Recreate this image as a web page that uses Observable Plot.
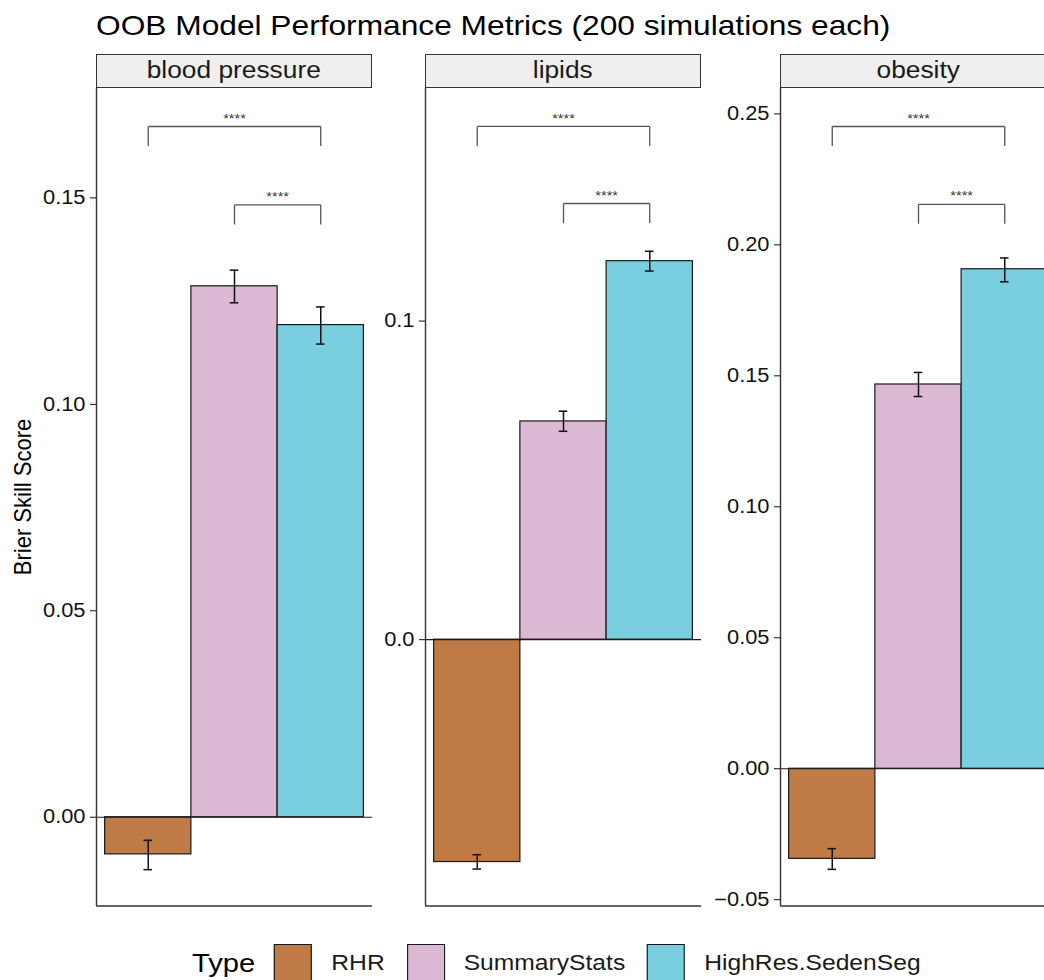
<!DOCTYPE html>
<html>
<head>
<meta charset="utf-8">
<script src="https://cdn.jsdelivr.net/npm/d3@7"></script>
<script src="https://cdn.jsdelivr.net/npm/@observablehq/plot@0.6"></script>
<style>
  html, body { margin: 0; padding: 0; background: #fff; overflow: hidden; }
  #chart {
    position: relative; width: 1044px; height: 980px; overflow: hidden;
    font-family: "Liberation Sans", Arial, Helvetica, sans-serif; color: #000;
  }
  .title {
    position: absolute; left: 96px; top: 11px; font-size: 28.3px; line-height: 28px;
    white-space: nowrap; transform: scaleX(1.12); transform-origin: left center;
  }
  .ytitle {
    position: absolute; left: 23px; top: 497px; font-size: 22px; line-height: 22px;
    white-space: nowrap; transform: translate(-50%, -50%) rotate(-90deg) scaleY(1.12);
  }
  .strip {
    position: absolute; top: 54px; height: 34px; width: 276px; box-sizing: border-box;
    background: #efefef; border: 1.4px solid #333; display: flex;
    align-items: center; justify-content: center;
  }
  .strip span {
    display: inline-block; font-size: 23.5px; line-height: 1; color: #1a1a1a;
    transform: scaleX(1.12); white-space: nowrap;
  }
  .panel { position: absolute; }
  .legend {
    position: absolute; left: 192px; top: 944px; height: 38px; display: flex;
    align-items: center; transform: scaleX(1.12); transform-origin: left center;
    white-space: nowrap; color: #1a1a1a;
  }
  .legend .ltitle { font-size: 26px; margin-right: 17px; color: #000; }
  .legend .key { width: 34px; height: 38px; box-sizing: border-box; border: 1.6px solid #1a1a1a; margin-right: 17px; }
  .legend .lab { font-size: 22px; margin-right: 19.5px; }
</style>
</head>
<body>
<div id="chart"></div>
<script>
// Model types (fill groups) and their colours
const types = ["RHR", "SummaryStats", "HighRes.SedenSeg"];
const typeColors = ["#c07a45", "#dbb8d3", "#79cee0"];

// Facets (outcomes)
const outcomes = ["blood pressure", "lipids", "obesity"];

// Mean OOB Brier skill score per type, with error-bar limits
const bloodPressureMean = [-0.0090, 0.1286, 0.1192];
const bloodPressureLow  = [-0.0127, 0.1246, 0.1146];
const bloodPressureHigh = [-0.0056, 0.1325, 0.1236];

const lipidsMean = [-0.0698, 0.0685, 0.1188];
const lipidsLow  = [-0.0720, 0.0654, 0.1157];
const lipidsHigh = [-0.0675, 0.0717, 0.1219];

const obesityMean = [-0.0344, 0.1467, 0.1907];
const obesityLow  = [-0.0384, 0.1421, 0.1859];
const obesityHigh = [-0.0305, 0.1513, 0.1950];

// Free y scales: visible range and tick values for each facet
const bloodPressureDomain = [-0.0215, 0.1765];
const lipidsDomain = [-0.0836, 0.1730];
const obesityDomain = [-0.0524, 0.2597];
const bloodPressureTicks = [0.00, 0.05, 0.10, 0.15];
const lipidsTicks = [0.0, 0.1];
const obesityTicks = [-0.05, 0.00, 0.05, 0.10, 0.15, 0.20, 0.25];
const tickFormats = [".2f", ".1f", ".2f"];

// Pairwise comparisons drawn as significance brackets
const bracketPairs = [["RHR", "HighRes.SedenSeg"], ["SummaryStats", "HighRes.SedenSeg"]];
const bracketLabels = ["****", "****"];
const bloodPressureBracketY = [0.1673, 0.1483];
const lipidsBracketY = [0.1611, 0.1369];
const obesityBracketY = [0.2452, 0.2155];

const panels = [
  {mean: bloodPressureMean, low: bloodPressureLow, high: bloodPressureHigh,
   domain: bloodPressureDomain, ticks: bloodPressureTicks, bracketY: bloodPressureBracketY},
  {mean: lipidsMean, low: lipidsLow, high: lipidsHigh,
   domain: lipidsDomain, ticks: lipidsTicks, bracketY: lipidsBracketY},
  {mean: obesityMean, low: obesityLow, high: obesityHigh,
   domain: obesityDomain, ticks: obesityTicks, bracketY: obesityBracketY}
];

// Layout of the facet grid
const axisLeft = [96, 424.5, 780];
const panelTop = 88;
const PW = 276, PH = 817.5;
const ML = 80, MR = 6, MT = 4, MB = 4;
const stretch = 1.12;
const ink = "#1a1a1a";

const chart = document.getElementById("chart");

const title = document.createElement("div");
title.className = "title";
title.textContent = "OOB Model Performance Metrics (200 simulations each)";
chart.appendChild(title);

const ytitle = document.createElement("div");
ytitle.className = "ytitle";
ytitle.textContent = "Brier Skill Score";
chart.appendChild(ytitle);

function widenText(svg) {
  svg.querySelectorAll("text").forEach((t) => {
    const tr = t.getAttribute("transform") || "";
    const x = t.getAttribute("x");
    if (x) t.setAttribute("x", +x / stretch);
    t.setAttribute("transform", `${tr} scale(${stretch},1)`);
  });
}

panels.forEach((p, k) => {
  const rows = types.map((t, i) => ({type: t, pos: i + 1, mean: p.mean[i], lo: p.low[i], hi: p.high[i]}));
  const tip = (p.domain[1] - p.domain[0]) * 0.0239;
  const segs = [];
  const labels = [];
  bracketPairs.forEach(([a, b], j) => {
    const xa = types.indexOf(a) + 1, xb = types.indexOf(b) + 1, y = p.bracketY[j];
    segs.push(
      {x1: xa, y1: y - tip, x2: xa, y2: y},
      {x1: xa, y1: y, x2: xb, y2: y},
      {x1: xb, y1: y, x2: xb, y2: y - tip}
    );
    labels.push({x: (xa + xb) / 2, y, text: bracketLabels[j]});
  });

  const svg = Plot.plot({
    width: ML + PW + MR,
    height: MT + PH + MB,
    marginLeft: ML, marginRight: MR, marginTop: MT, marginBottom: MB,
    style: {
      background: "transparent", overflow: "visible",
      fontFamily: "'Liberation Sans', Arial, Helvetica, sans-serif",
      fontSize: "19.5px", color: "#111"
    },
    x: {domain: [0.4, 3.6], axis: null},
    y: {
      domain: p.domain, ticks: p.ticks, tickFormat: d3.format(tickFormats[k]),
      tickSize: 6, tickPadding: 5, label: null
    },
    color: {domain: types, range: typeColors},
    marks: [
      Plot.rect(rows, {x1: (d) => d.pos - 0.5, x2: (d) => d.pos + 0.5, y1: 0, y2: "mean",
        fill: "type", stroke: ink, strokeWidth: 1.2}),
      Plot.ruleY([0], {stroke: ink, strokeWidth: 1.2}),
      Plot.ruleX(rows, {x: "pos", y1: "lo", y2: "hi", stroke: "#111", strokeWidth: 1.5}),
      Plot.ruleY(rows, {y: "lo", x1: (d) => d.pos - 0.05, x2: (d) => d.pos + 0.05, stroke: "#111", strokeWidth: 1.5}),
      Plot.ruleY(rows, {y: "hi", x1: (d) => d.pos - 0.05, x2: (d) => d.pos + 0.05, stroke: "#111", strokeWidth: 1.5}),
      Plot.link(segs, {x1: "x1", y1: "y1", x2: "x2", y2: "y2", stroke: "#555", strokeWidth: 1.3}),
      Plot.text(labels, {x: "x", y: "y", text: "text", dy: -8, fontSize: 13, fill: "#333"}),
      Plot.ruleX([0.4], {stroke: "#333", strokeWidth: 1.4}),
      Plot.ruleY([p.domain[0]], {stroke: "#333", strokeWidth: 1.4})
    ]
  });
  widenText(svg);
  svg.classList.add("panel");
  svg.style.left = `${axisLeft[k] - ML}px`;
  svg.style.top = `${panelTop - MT}px`;
  chart.appendChild(svg);

  const strip = document.createElement("div");
  strip.className = "strip";
  strip.style.left = `${axisLeft[k]}px`;
  const s = document.createElement("span");
  s.textContent = outcomes[k];
  strip.appendChild(s);
  chart.appendChild(strip);
});

// Legend for the fill scale
const legend = document.createElement("div");
legend.className = "legend";
const lt = document.createElement("span");
lt.className = "ltitle";
lt.textContent = "Type";
legend.appendChild(lt);
types.forEach((t, i) => {
  const key = document.createElement("span");
  key.className = "key";
  key.style.background = typeColors[i];
  legend.appendChild(key);
  const lab = document.createElement("span");
  lab.className = "lab";
  lab.textContent = t;
  legend.appendChild(lab);
});
chart.appendChild(legend);
</script>
</body>
</html>
